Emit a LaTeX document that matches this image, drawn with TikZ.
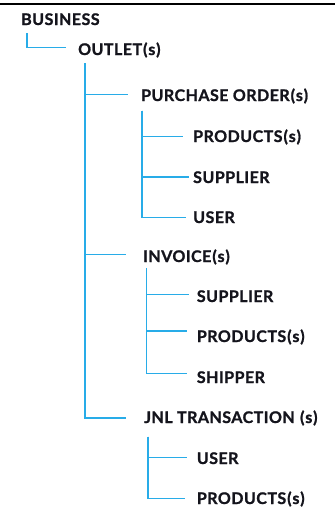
\documentclass[tikz,border=0pt]{standalone}
\usepackage{fontspec}
\setmainfont{Lato}[LetterSpace=3,BoldFeatures={FakeBold=1.2}]
\definecolor{treeblue}{RGB}{40,172,232}
\definecolor{txt}{RGB}{20,20,28}
\newcommand\plS{\kern1pt(\kern0.8pt s\kern0.8pt)}
\begin{document}
\begin{tikzpicture}[x=1pt,y=-1pt,
  lbl/.style={anchor=west,inner sep=0pt,text height=11.4pt,text depth=0pt,
    font=\fontsize{16}{16}\selectfont\bfseries,text=txt},
  conn/.style={draw=treeblue,line width=1.2pt}]
\useasboundingbox (0,0) rectangle (335,523);
\draw[line width=2pt,black] (0,4) -- (335,4);
% labels (west anchor = middle of capitals)
\node[lbl] (business) at (21,19.3) {BUSINESS};
\node[lbl] (outlet) at (78,49.3) {OUTLET\plS};
\node[lbl] (po) at (141,95.3) {PURCHASE ORDER\plS};
\node[lbl] (po1) at (193,136.3) {PRODUCTS\plS};
\node[lbl] (po2) at (193,177.3) {SUPPLIER};
\node[lbl] (po3) at (193,217.3) {USER};
\node[lbl] (inv) at (143,256.3) {INVOICE\plS};
\node[lbl] (inv1) at (196.7,296.3) {SUPPLIER};
\node[lbl] (inv2) at (196.7,336.3) {PRODUCTS\plS};
\node[lbl] (inv3) at (196.7,377.3) {SHIPPER};
\node[lbl] (jnl) at (144,417.3) {JNL TRANSACTION \plS};
\node[lbl] (jnl1) at (196.7,458.3) {USER};
\node[lbl] (jnl2) at (196.7,498.3) {PRODUCTS\plS};
% trunk tops
\coordinate (tb) at (27,33);
\coordinate (to) at (85,63);
\coordinate (tp) at (142,110.7);
\coordinate (ti) at (146.7,268);
\coordinate (tj) at (148,436.7);
% connectors
\draw[conn] (tb) |- ([xshift=-12pt,yshift=1.7pt]outlet.west);
\draw[conn] (to) |- ([xshift=-13pt,yshift=0.7pt]po.west);
\draw[conn] (to) |- ([xshift=-17pt,yshift=1.7pt]inv.west);
\draw[conn] (to) |- ([xshift=-18pt,yshift=-0.6pt]jnl.west);
\draw[conn] (tp) |- ([xshift=-10pt,yshift=-0.3pt]po1.west);
\draw[conn] (tp) |- ([xshift=-4pt,yshift=0.4pt]po2.west);
\draw[conn] (tp) |- ([xshift=-7pt,yshift=-0.3pt]po3.west);
\draw[conn] (ti) |- ([xshift=-8pt,yshift=1.7pt]inv1.west);
\draw[conn] (ti) |- ([xshift=-10pt,yshift=5.4pt]inv2.west);
\draw[conn] (ti) |- ([xshift=-10pt,yshift=3.7pt]inv3.west);
\draw[conn] (tj) |- ([xshift=-10pt,yshift=0.7pt]jnl1.west);
\draw[conn] (tj) |- ([xshift=-12pt,yshift=-0.3pt]jnl2.west);
\end{tikzpicture}
\end{document}
